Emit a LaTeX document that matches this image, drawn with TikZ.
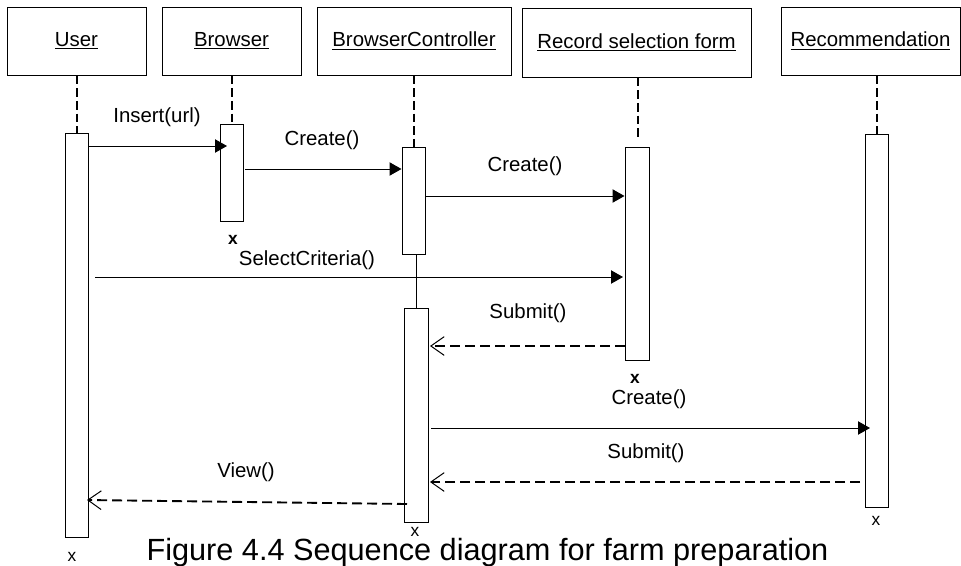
\documentclass[tikz,border=0pt]{standalone}
\usepackage{fontspec}
\setmainfont{Liberation Sans}
\usetikzlibrary{arrows.meta,fit}
\begin{document}
\begin{tikzpicture}[x=0.75pt,y=-0.75pt,
  every node/.style={font=\fontsize{15.3}{18}\selectfont},
  head/.style={draw,line width=0.75pt,inner sep=0pt},
  act/.style={draw,line width=0.75pt,inner sep=0pt,fill=white},
  life/.style={line width=1.5pt,dash pattern=on 6.5pt off 3pt},
  msg/.style={line width=0.75pt,-{Triangle[length=9pt,width=10pt]}},
  ret/.style={line width=1.4pt,dash pattern=on 7.5pt off 3.75pt,-{Straight Barb[length=10pt,width=14pt,line width=0.75pt]}},
  lbl/.style={inner sep=0pt},
  xm/.style={inner sep=0pt,font=\fontsize{13}{14}\selectfont}]
\useasboundingbox (0,0) rectangle (961,565);
% header boxes
\node[head,minimum width=139*0.75pt,minimum height=68*0.75pt] (user) at (76.5,41) {\underline{User}};
\node[head,minimum width=139*0.75pt,minimum height=68*0.75pt] (browser) at (231.5,41) {\underline{Browser}};
\node[head,minimum width=194*0.75pt,minimum height=68*0.75pt] (bc) at (414,41) {\underline{BrowserController}};
\node[head,minimum width=229*0.75pt,minimum height=69*0.75pt] (rsf) at (636.5,42.5) {\underline{Record selection form}};
\node[head,minimum width=179*0.75pt,minimum height=68*0.75pt] (rec) at (870.5,41) {\underline{Recommendation}};
% activation bars
\node[act,fit={(65,133)(88,537)}] (uA) {};
\node[act,fit={(220,124)(243,221)}] (bA) {};
\node[act,fit={(402,147)(425,254)}] (cA1) {};
\node[act,fit={(404,308)(428,522)}] (cA2) {};
\node[act,fit={(625,147)(649,360)}] (fA) {};
\node[act,fit={(865,134)(888,507)}] (rA) {};
% lifelines
\draw[life] (user.south -| uA.north) -- (uA.north);
\draw[life] (browser.south -| bA.north) -- (bA.north);
\draw[life] (bc.south -| cA1.north) -- (cA1.north);
\coordinate (fTop) at (638,137);
\draw[life] (rsf.south -| fTop) -- (fTop);
\draw[life] (rec.south -| rA.north) -- (rA.north);
\coordinate (cLink) at (416,254);
\draw[line width=0.75pt] (cLink) -- (cLink |- cA2.north);
% destruction marks
\node[xm] (ux) at (72,557) {x};
\node[xm,font=\bfseries\fontsize{13}{14}\selectfont] (bx) at (233,240) {x};
\node[xm] (cx) at (415,532) {x};
\node[xm,font=\bfseries\fontsize{13}{14}\selectfont] (fx) at (635,379) {x};
\node[xm] (rx) at (876,521) {x};
% messages
\coordinate (m1) at (227,146);
\draw[msg] (uA.east |- m1) -- (m1);
\node[lbl] at (157,117) {Insert(url)};
\coordinate (m2) at (245,169);
\draw[msg] (m2) -- (cA1.west |- m2);
\node[lbl] at (322,140) {Create()};
\coordinate (m3) at (425,196);
\draw[msg] (m3) -- (fA.west |- m3);
\node[lbl] at (525,166) {Create()};
\coordinate (m4a) at (95,277);
\coordinate (m4b) at (623,277);
\draw[msg] (m4a) -- (m4b);
\node[lbl] at (307,260) {SelectCriteria()};
\coordinate (m5) at (430,346);
\draw[ret] (fA.west |- m5) -- (m5);
\node[lbl] at (528,313) {Submit()};
\coordinate (m6a) at (431,428);
\coordinate (m6b) at (870,428);
\draw[msg] (m6a) -- (m6b);
\node[lbl] at (649,399) {Create()};
\coordinate (m7a) at (860,482);
\coordinate (m7b) at (430,482);
\draw[ret] (m7a) -- (m7b);
\node[lbl] at (646,453) {Submit()};
\coordinate (m8a) at (407,504);
\coordinate (m8b) at (87,500);
\draw[ret] (m8a) -- (m8b);
\node[lbl] at (246,472) {View()};
% caption
\node[lbl,font=\fontsize{23}{26}\selectfont,anchor=base] at (487.5,560) {Figure 4.4 Sequence diagram for farm preparation};
\end{tikzpicture}
\end{document}
